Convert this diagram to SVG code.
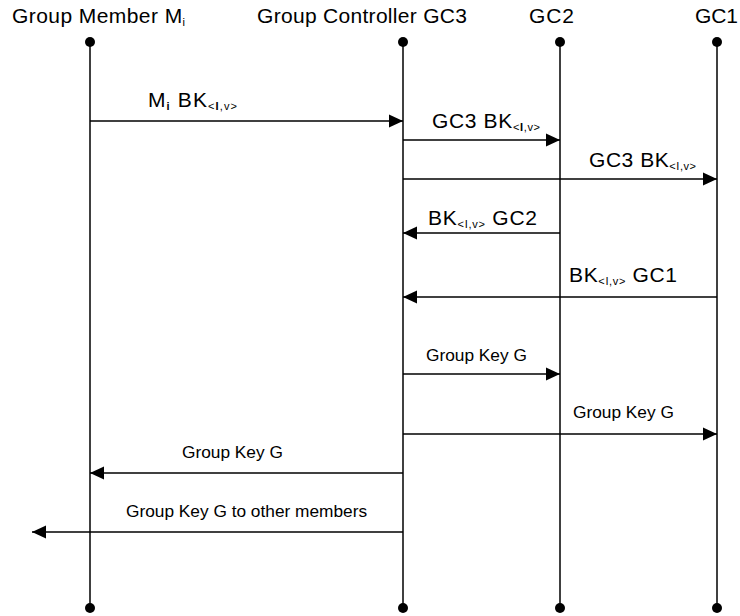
<svg xmlns="http://www.w3.org/2000/svg" width="740" height="616" viewBox="0 0 740 616">
<style>
text{font-family:"Liberation Sans",Arial,sans-serif;fill:#000}
.h{font-size:21px}
.l{font-size:21px}
.s{font-size:17.3px}
.sub{font-size:11px}
.life{stroke:#000;stroke-width:1.5}
.msg{stroke:#000;stroke-width:1.5;fill:none;marker-end:url(#ah)}
</style>
<defs>
<marker id="ah" markerUnits="userSpaceOnUse" markerWidth="14" markerHeight="14" viewBox="0 0 13 12" refX="13" refY="6" orient="auto">
<path d="M0,0 L13,6 L0,12 Z" fill="#000"/>
</marker>
</defs>
<g id="member">
<text class="h" x="12" y="23" textLength="173" lengthAdjust="spacing">Group Member M<tspan class="sub" dy="3">i</tspan></text>
<line class="life" x1="90" y1="42" x2="90" y2="608"/>
<circle cx="90" cy="42" r="5"/>
<circle cx="90" cy="608" r="5"/>
</g>
<g id="gc3">
<text class="h" x="257" y="23" textLength="210" lengthAdjust="spacing">Group Controller GC3</text>
<line class="life" x1="403" y1="42" x2="403" y2="608"/>
<circle cx="403" cy="42" r="5"/>
<circle cx="403" cy="608" r="5"/>
</g>
<g id="gc2">
<text class="h" x="529" y="23" textLength="45" lengthAdjust="spacing">GC2</text>
<line class="life" x1="560" y1="42" x2="560" y2="608"/>
<circle cx="560" cy="42" r="5"/>
<circle cx="560" cy="608" r="5"/>
</g>
<g id="gc1">
<text class="h" x="695" y="23" textLength="43" lengthAdjust="spacing">GC1</text>
<line class="life" x1="717" y1="42" x2="717" y2="608"/>
<circle cx="717" cy="42" r="5"/>
<circle cx="717" cy="608" r="5"/>
</g>
<g id="connectors">
<line class="msg" x1="90" y1="121" x2="403" y2="121"/>
<line class="msg" x1="403" y1="140" x2="560" y2="140"/>
<line class="msg" x1="403" y1="179" x2="717" y2="179"/>
<line class="msg" x1="560" y1="233" x2="403" y2="233"/>
<line class="msg" x1="717" y1="297" x2="403" y2="297"/>
<line class="msg" x1="403" y1="374" x2="560" y2="374"/>
<line class="msg" x1="403" y1="434" x2="717" y2="434"/>
<line class="msg" x1="403" y1="473" x2="90" y2="473"/>
<line class="msg" x1="403" y1="532" x2="32" y2="532"/>
</g>
<g id="labels">
<text class="l" x="148" y="107" textLength="89" lengthAdjust="spacing">M<tspan class="sub" font-weight="bold" dy="3">i</tspan><tspan dy="-3"> BK</tspan><tspan class="sub" dy="3">&lt;<tspan font-weight="bold">I</tspan>,v&gt;</tspan></text>
<text class="l" x="432" y="128" textLength="108" lengthAdjust="spacing">GC3 BK<tspan class="sub" dy="3">&lt;<tspan font-weight="bold">I</tspan>,v&gt;</tspan></text>
<text class="l" x="589" y="167" textLength="107" lengthAdjust="spacing">GC3 BK<tspan class="sub" dy="3">&lt;I,v&gt;</tspan></text>
<text class="l" x="428" y="225" textLength="109" lengthAdjust="spacing">BK<tspan class="sub" dy="3">&lt;I,v&gt;</tspan><tspan dy="-3"> GC2</tspan></text>
<text class="l" x="569" y="282" textLength="108" lengthAdjust="spacing">BK<tspan class="sub" dy="3">&lt;I,v&gt;</tspan><tspan dy="-3"> GC1</tspan></text>
<text class="s" x="426" y="361">Group Key G</text>
<text class="s" x="573" y="418">Group Key G</text>
<text class="s" x="182" y="458">Group Key G</text>
<text class="s" x="126" y="517">Group Key G to other members</text>
</g>
</svg>
